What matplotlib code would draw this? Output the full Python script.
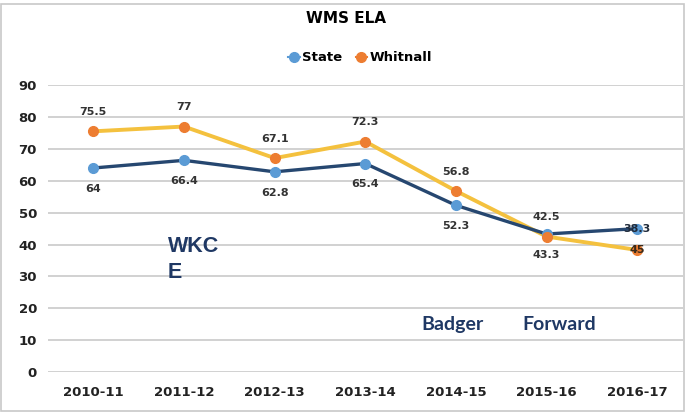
"""WMS ELA: State vs Whitnall line chart."""

import matplotlib
matplotlib.use("Agg")
import matplotlib.pyplot as plt
from matplotlib.patches import Rectangle

years = ["2010-11", "2011-12", "2012-13", "2013-14", "2014-15", "2015-16", "2016-17"]
state = [64, 66.4, 62.8, 65.4, 52.3, 43.3, 45]
whitnall = [75.5, 77, 67.1, 72.3, 56.8, 42.5, 38.3]
y_ticks = [0, 10, 20, 30, 40, 50, 60, 70, 80, 90]

NAVY_LINE = "#264770"
BLUE_MARK = "#5B9BD5"
GOLD_LINE = "#F4C13E"
ORANGE_MARK = "#ED7D31"
TEXT_BLUE = "#1F3864"
LABEL = "#333333"

plt.rcParams["font.family"] = ["DejaVu Sans"]

fig = plt.figure(figsize=(6.86, 4.13), dpi=100)
ax = fig.add_axes([0.07, 0.099, 0.925, 0.695])

x = list(range(len(years)))

ax.plot(x, whitnall, color=GOLD_LINE, linewidth=2.8, zorder=3)
ax.plot(x, state, color=NAVY_LINE, linewidth=2.4, zorder=4)
ax.plot(x, state, "o", color=BLUE_MARK, markersize=7, zorder=5)
ax.plot(x, whitnall, "o", color=ORANGE_MARK, markersize=7, zorder=6)

# data labels (last column labels sit on the other series' point, as in the source)
for i in range(len(years) - 1):
    ax.annotate(f"{whitnall[i]:g}", (i, whitnall[i]), textcoords="offset points",
                xytext=(0, 14), ha="center", va="center", fontsize=8,
                fontweight="bold", color=LABEL)
    ax.annotate(f"{state[i]:g}", (i, state[i]), textcoords="offset points",
                xytext=(0, -15), ha="center", va="center", fontsize=8,
                fontweight="bold", color=LABEL)
last = len(years) - 1
ax.annotate(f"{whitnall[last]:g}", (last, state[last]), ha="center", va="center",
            fontsize=8, fontweight="bold", color="#1F2A3A", zorder=7)
ax.annotate(f"{state[last]:g}", (last, whitnall[last]), ha="center", va="center",
            fontsize=8, fontweight="bold", color="#3A2A1A", zorder=7)

# overlaid text boxes
ax.text(0.82, 42.8, "WKC\nE", ha="left", va="top", fontsize=15.5, fontweight="bold",
        color=TEXT_BLUE, family="Liberation Sans", linespacing=1.35)
ax.text(3.62, 13.2, "Badger", ha="left", va="baseline", fontsize=14, fontweight="bold",
        color=TEXT_BLUE, family="Lato")
ax.text(4.73, 13.2, "Forward", ha="left", va="baseline", fontsize=14, fontweight="bold",
        color=TEXT_BLUE, family="Lato")

ax.set_xlim(-0.5, len(years) - 0.5)
ax.set_ylim(0, 90)
ax.set_xticks(x)
ax.set_xticklabels(years, fontsize=9.5, fontweight="bold", color="#222222")
ax.set_yticks(y_ticks)
ax.set_yticklabels([str(t) for t in y_ticks], fontsize=9.5, fontweight="bold", color="#222222")
ax.tick_params(length=0, pad=8)
ax.tick_params(axis="x", pad=10)
ax.grid(axis="y", color="#C9C9C9", linewidth=1.2)
ax.set_axisbelow(True)
for s in ax.spines.values():
    s.set_visible(False)

fig.text(0.505, 0.955, "WMS ELA", ha="center", va="center", fontsize=11, fontweight="bold")

# legend
h1, = ax.plot([], [], "o-", color=BLUE_MARK, markersize=7, linewidth=1.5)
h2, = ax.plot([], [], "o-", color=ORANGE_MARK, markersize=7, linewidth=1.5)
fig.legend([h1, h2], ["State", "Whitnall"], loc="center", bbox_to_anchor=(0.525, 0.86),
           ncol=2, frameon=False, handlelength=0.9, handletextpad=0.2, columnspacing=1.0,
           prop={"weight": "bold", "size": 9.5})

fig.patches.append(Rectangle((0.002, 0.005), 0.995, 0.985, transform=fig.transFigure,
                             fill=False, edgecolor="#C8C8C8", linewidth=1.2))

fig.savefig("out.png", dpi=100)
